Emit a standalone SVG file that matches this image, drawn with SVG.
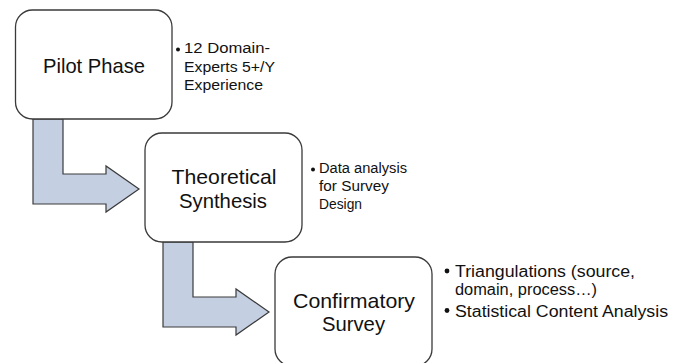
<svg xmlns="http://www.w3.org/2000/svg" width="684" height="363" viewBox="0 0 684 363">
<style>
.box{fill:#fff;stroke:#3a3a3a;stroke-width:1.3}
.arr{fill:#c5cfe2;stroke:#3a3a3a;stroke-width:1.2;stroke-linejoin:miter}
.t{font-family:"Liberation Sans",Arial,sans-serif;fill:#111}
.big{font-size:21px;text-anchor:middle}
.sm{font-size:14px}
.md{font-size:16px}
.dot{fill:#111}
</style>
<rect width="684" height="363" fill="#fff"/>
<g id="connectors">
<path class="arr" d="M33,119 L63,119 L63,174 L106,174 L106,166 L139,189 L106,212 L106,204 L33,204 Z"/>
<path class="arr" d="M163,242 L193,242 L193,297 L236,297 L236,289 L269,312 L236,335 L236,327 L163,327 Z"/>
</g>
<g id="pilot">
<rect class="box" x="15.5" y="10" width="156.5" height="109" rx="17"/>
<text class="t big" x="94" y="73" textLength="102" lengthAdjust="spacingAndGlyphs">Pilot Phase</text>
</g>
<g id="pilot-notes">
<circle class="dot" cx="178" cy="49.5" r="2"/>
<text class="t sm" x="184" y="53.3" textLength="86" lengthAdjust="spacingAndGlyphs">12 Domain-</text>
<text class="t sm" x="184" y="71.5" textLength="91" lengthAdjust="spacingAndGlyphs">Experts 5+/Y</text>
<text class="t sm" x="184" y="89.5" textLength="79" lengthAdjust="spacingAndGlyphs">Experience</text>
</g>
<g id="theoretical">
<rect class="box" x="145" y="133" width="157" height="109" rx="17"/>
<text class="t big" x="224" y="184" textLength="105" lengthAdjust="spacingAndGlyphs">Theoretical</text>
<text class="t big" x="223" y="208" textLength="88" lengthAdjust="spacingAndGlyphs">Synthesis</text>
</g>
<g id="theoretical-notes">
<circle class="dot" cx="313" cy="169.5" r="2"/>
<text class="t sm" x="319" y="173.3" textLength="88" lengthAdjust="spacingAndGlyphs">Data analysis</text>
<text class="t sm" x="319" y="191" textLength="70" lengthAdjust="spacingAndGlyphs">for Survey</text>
<text class="t sm" x="319" y="209" textLength="43" lengthAdjust="spacingAndGlyphs">Design</text>
</g>
<g id="confirmatory">
<rect class="box" x="275" y="257" width="157" height="109" rx="17"/>
<text class="t big" x="354" y="308" textLength="122" lengthAdjust="spacingAndGlyphs">Confirmatory</text>
<text class="t big" x="353.5" y="331" textLength="63" lengthAdjust="spacingAndGlyphs">Survey</text>
</g>
<g id="confirmatory-notes">
<circle class="dot" cx="447" cy="271" r="2.4"/>
<text class="t md" x="455" y="277" textLength="180" lengthAdjust="spacingAndGlyphs">Triangulations (source,</text>
<text class="t md" x="455" y="295" textLength="142" lengthAdjust="spacingAndGlyphs">domain, process…)</text>
<circle class="dot" cx="447" cy="310.5" r="2.4"/>
<text class="t md" x="455" y="316.5" textLength="213" lengthAdjust="spacingAndGlyphs">Statistical Content Analysis</text>
</g>
</svg>
